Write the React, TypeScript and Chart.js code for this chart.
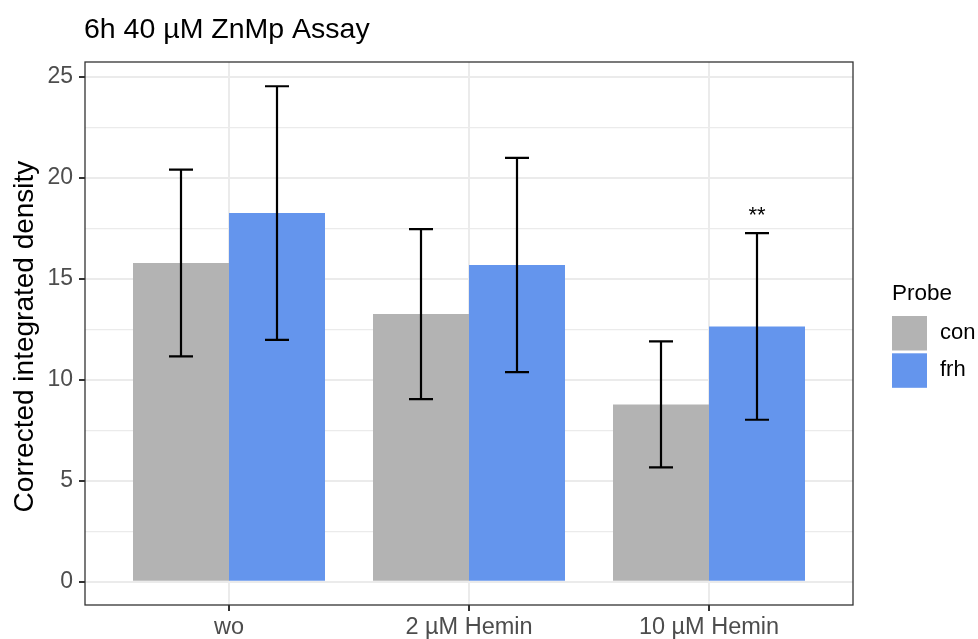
import React, { useEffect, useRef } from "react";
import { Chart, registerables } from "chart.js";

Chart.register(...registerables);

const title = "6h 40 µM ZnMp Assay";
const yAxisTitle = "Corrected integrated density";
const legendTitle = "Probe";
const categories = ["wo", "2 µM Hemin", "10 µM Hemin"];
const seriesNames = ["con", "frh"];
const conMeans = [15.78, 13.25, 8.78];
const conSd = [4.62, 4.21, 3.12];
const frhMeans = [18.25, 15.68, 12.64];
const frhSd = [6.28, 5.3, 4.62];
const frhSignif = ["", "", "**"];
const yTicks = [0, 2.5, 5, 7.5, 10, 12.5, 15, 17.5, 20, 22.5, 25];
const yMin = -1.15;
const yMax = 25.73;

const FONT = "'Liberation Sans', Arial, Helvetica, sans-serif";
const colors = ["#B3B3B3", "#6495ED"];

export default function App() {
  const ref = useRef<HTMLCanvasElement | null>(null);

  useEffect(() => {
    document.body.style.margin = "0";
    const canvas = ref.current;
    if (!canvas) return;

    const means = [conMeans, frhMeans];
    const sds = [conSd, frhSd];
    const signif = [categories.map(() => ""), frhSignif];

    const overlay = {
      id: "overlay",
      afterDatasetsDraw(chart: any) {
        const ctx = chart.ctx;
        const ys = chart.scales.y;
        ctx.save();
        ctx.strokeStyle = "#000000";
        ctx.lineWidth = 2.2;
        chart.data.datasets.forEach((ds: any, di: number) => {
          const meta = chart.getDatasetMeta(di);
          meta.data.forEach((el: any, i: number) => {
            const m = means[di][i];
            const s = sds[di][i];
            const yTop = ys.getPixelForValue(m + s);
            const yBot = ys.getPixelForValue(m - s);
            const half = el.width * 0.125;
            ctx.beginPath();
            ctx.moveTo(el.x, yTop);
            ctx.lineTo(el.x, yBot);
            ctx.moveTo(el.x - half, yTop);
            ctx.lineTo(el.x + half, yTop);
            ctx.moveTo(el.x - half, yBot);
            ctx.lineTo(el.x + half, yBot);
            ctx.stroke();
            const lab = signif[di][i];
            if (lab) {
              ctx.fillStyle = "#000000";
              ctx.font = `22px ${FONT}`;
              ctx.textAlign = "center";
              ctx.textBaseline = "middle";
              ctx.fillText(lab, el.x, ys.getPixelForValue(m + s + 1) + 3);
            }
          });
        });
        ctx.restore();
      },
      afterDraw(chart: any) {
        const ctx = chart.ctx;
        const a = chart.chartArea;
        ctx.save();
        ctx.strokeStyle = "#333333";
        ctx.lineWidth = 1.3;
        ctx.strokeRect(a.left, a.top, a.right - a.left, a.bottom - a.top);
        ctx.fillStyle = "#000000";
        ctx.font = `28.5px ${FONT}`;
        ctx.textAlign = "left";
        ctx.textBaseline = "alphabetic";
        ctx.fillText(title, a.left - 1, 38);
        ctx.save();
        ctx.translate(33, (a.top + a.bottom) / 2 + 3);
        ctx.rotate(-Math.PI / 2);
        ctx.textAlign = "center";
        ctx.font = `28px ${FONT}`;
        ctx.fillText(yAxisTitle, 0, 0);
        ctx.restore();
        const lx = a.right + 39;
        ctx.font = `22.5px ${FONT}`;
        ctx.textAlign = "left";
        ctx.textBaseline = "alphabetic";
        ctx.fillText(legendTitle, lx, 300);
        chart.data.datasets.forEach((ds: any, di: number) => {
          const top = 316 + di * 37.3;
          ctx.fillStyle = ds.backgroundColor;
          ctx.fillRect(lx, top, 35, 34.5);
          ctx.fillStyle = "#000000";
          ctx.font = `22px ${FONT}`;
          ctx.textBaseline = "middle";
          ctx.fillText(ds.label, lx + 48, top + 17);
        });
        ctx.restore();
      },
    };

    const chart = new Chart(canvas, {
      type: "bar",
      data: {
        datasets: seriesNames.map((name, di) => ({
          label: name,
          data: categories.map((_, i) => ({ x: i + 1, y: means[di][i] })),
          backgroundColor: colors[di],
          borderWidth: 0,
          categoryPercentage: 0.8,
          barPercentage: 1.0,
        })),
      },
      options: {
        responsive: false,
        animation: false,
        devicePixelRatio: 1,
        layout: { padding: { left: 0, top: 62, right: 125, bottom: 0 } },
        plugins: {
          legend: { display: false },
          title: { display: false },
          tooltip: { enabled: false },
        },
        scales: {
          x: {
            type: "linear",
            min: 0.4,
            max: 3.6,
            offset: false,
            afterBuildTicks: (s: any) => {
              s.ticks = categories.map((_, i) => ({ value: i + 1 }));
            },
            afterFit: (s: any) => {
              s.height = 34;
            },
            grid: {
              offset: false,
              color: "#EBEBEB",
              lineWidth: 2,
              tickLength: 6,
              tickColor: "#333333",
              tickWidth: 2,
            },
            border: { display: false },
            ticks: {
              autoSkip: false,
              maxRotation: 0,
              padding: 2,
              color: "#4D4D4D",
              font: { family: FONT, size: 23.5 },
              callback: (v: any) => categories[Math.round(Number(v)) - 1] ?? "",
            },
          },
          y: {
            type: "linear",
            min: yMin,
            max: yMax,
            afterBuildTicks: (s: any) => {
              s.ticks = yTicks.map((v) => ({ value: v }));
            },
            afterFit: (s: any) => {
              s.width = 85;
            },
            grid: {
              color: "#EBEBEB",
              lineWidth: (c: any) => (c.tick && c.tick.value % 5 === 0 ? 2 : 1.2),
              tickLength: 6,
              tickColor: (c: any) => (c.tick && c.tick.value % 5 === 0 ? "#333333" : "rgba(0,0,0,0)"),
              tickWidth: 2,
            },
            border: { display: false },
            ticks: {
              padding: 6,
              color: "#4D4D4D",
              font: { family: FONT, size: 23 },
              callback: (v: any) => (Number(v) % 5 === 0 ? String(v) : ""),
            },
          },
        },
      },
      plugins: [overlay],
    } as any);

    return () => chart.destroy();
  }, []);

  return (
    <div style={{ width: 978, height: 639, position: "relative", background: "#ffffff" }}>
      <canvas ref={ref} width={978} height={639} style={{ display: "block" }} />
    </div>
  );
}
